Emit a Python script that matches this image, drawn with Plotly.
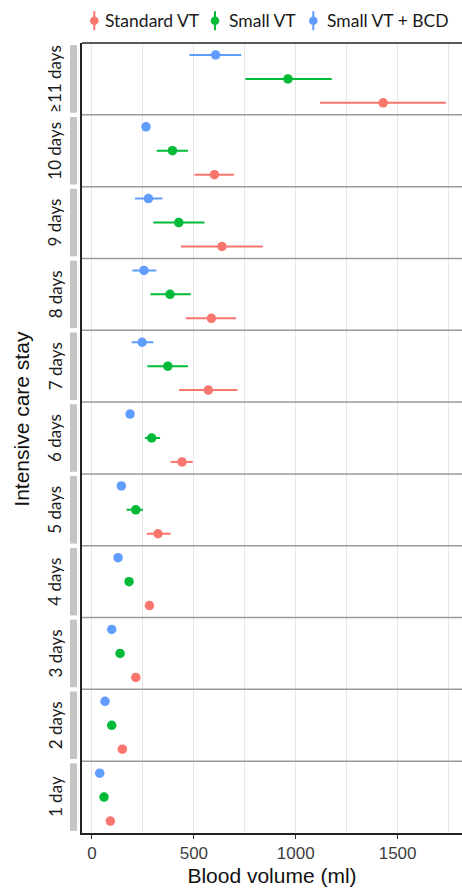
import plotly.graph_objects as go
from plotly.subplots import make_subplots

# Length of intensive care stay (bottom to top of the stacked panels)
stay = ["1 day", "2 days", "3 days", "4 days", "5 days", "6 days",
        "7 days", "8 days", "9 days", "10 days", "≥11 days"]

# Cumulative blood volume drawn (ml): mean with interval bounds
std_mean = [90, 149, 215, 282, 324, 442, 571, 586, 638, 601, 1429]
std_lo = [78, 136, 200, 266, 269, 385, 427, 460, 437, 503, 1119]
std_hi = [102, 162, 230, 298, 386, 494, 714, 707, 838, 696, 1737]

small_mean = [59, 97, 138, 182, 215, 293, 372, 383, 426, 395, 962]
small_lo = [51, 88, 127, 168, 170, 260, 272, 287, 301, 318, 753]
small_hi = [67, 106, 149, 196, 250, 334, 471, 485, 552, 471, 1177]

bcd_mean = [38, 64, 97, 128, 144, 187, 246, 255, 277, 265, 607]
bcd_lo = [32, 57, 89, 119, 133, 176, 195, 198, 211, 250, 478]
bcd_hi = [44, 71, 105, 137, 155, 198, 301, 316, 346, 281, 733]

groups = ["Standard VT", "Small VT", "Small VT + BCD"]
colors = ["#F8766D", "#00BA38", "#619CFF"]
series = [(std_mean, std_lo, std_hi),
          (small_mean, small_lo, small_hi),
          (bcd_mean, bcd_lo, bcd_hi)]

x_ticks = [0, 500, 1000, 1500]

n = len(stay)
fig = make_subplots(rows=n, cols=1, shared_xaxes=True, vertical_spacing=0)

for i in range(n):
    row = n - i  # top row holds the longest stay
    for g, (name, col, (m, lo, hi)) in enumerate(zip(groups, colors, series)):
        fig.add_trace(go.Scatter(
            x=[m[i]], y=[name], mode="markers",
            marker=dict(color=col, size=9.5),
            error_x=dict(type="data", symmetric=False,
                         array=[hi[i] - m[i]], arrayminus=[m[i] - lo[i]],
                         color=col, thickness=2, width=0),
            showlegend=False, hoverinfo="x+y"), row=row, col=1)

fig.update_xaxes(range=[-49, 1816], tickvals=x_ticks, showgrid=True,
                 gridcolor="#e6e6e6", gridwidth=1, zeroline=False,
                 minor=dict(dtick=250, tick0=0, showgrid=True,
                            gridcolor="#e6e6e6", gridwidth=1),
                 ticks="", showline=False)
fig.update_xaxes(row=n, col=1, ticks="outside", ticklen=4, tickwidth=1,
                 tickcolor="#333", showline=True, linecolor="#222",
                 linewidth=1.5,
                 tickfont=dict(family="Liberation Sans", size=17, color="#3d3d3d"),
                 title=dict(text="Blood volume (ml)", standoff=6,
                            font=dict(family="Liberation Sans", size=21,
                                      color="#111")))
fig.update_yaxes(type="category", categoryorder="array",
                 categoryarray=groups, range=[-0.5, 2.5],
                 showticklabels=False, showgrid=False, zeroline=False,
                 showline=True, linecolor="#222", linewidth=1.5, ticks="")

shapes = []
annotations = []
L, W = 82, 380  # plot area left edge and width in pixels
for i in range(n):
    row = n - i
    yd = "y domain" if row == 1 else f"y{row} domain"
    # facet strip on the left
    shapes.append(dict(type="rect", xref="paper", yref=yd,
                       x0=(70 - L) / W, x1=(77 - L) / W, y0=0.03, y1=0.97,
                       fillcolor="#c4c4c4", line=dict(width=0), layer="above"))
    annotations.append(dict(text=stay[i], xref="paper", yref=yd,
                            x=(55 - L) / W, y=0.5, textangle=-90,
                            showarrow=False, xanchor="center", yanchor="middle",
                            font=dict(family="Lato", size=17, color="#1a1a1a")))
    if row < n:
        shapes.append(dict(type="line", xref="paper", yref=yd,
                           x0=0, x1=1, y0=0, y1=0,
                           line=dict(color="#9a9a9a", width=1.5)))

# top border of the panel stack
shapes.append(dict(type="line", xref="paper", yref="paper", x0=0, x1=1,
                   y0=1, y1=1, line=dict(color="#222", width=1.5)))

# legend keys: point with a vertical range line
H = 790
def py(px):
    return 1 + (43.3 - px) / H

key_x = [94.3, 215, 313.3]
text_x = [102.7, 226.7, 325]
for name, col, kx, tx in zip(groups, colors, key_x, text_x):
    shapes.append(dict(type="line", xref="paper", yref="paper",
                       x0=(kx - L) / W, x1=(kx - L) / W, y0=py(11.5), y1=py(30.5),
                       line=dict(color=col, width=2)))
    shapes.append(dict(type="circle", xref="paper", yref="paper",
                       x0=(kx - 4.3 - L) / W, x1=(kx + 4.3 - L) / W,
                       y0=py(21 + 4.3), y1=py(21 - 4.3),
                       fillcolor=col, line=dict(width=0)))
    annotations.append(dict(text=name, xref="paper", yref="paper",
                            x=(tx - L) / W, y=py(21), showarrow=False,
                            xanchor="left", yanchor="middle",
                            font=dict(family="Lato", size=17.5, color="#1a1a1a")))

annotations.append(dict(text="Intensive care stay", xref="paper", yref="paper",
                        x=(22 - L) / W, y=py(419), textangle=-90,
                        showarrow=False, xanchor="center", yanchor="middle",
                        font=dict(family="Liberation Sans", size=21, color="#111")))

fig.update_layout(width=462, height=889,
                  margin=dict(l=82, r=0, t=43, b=56),
                  plot_bgcolor="white", paper_bgcolor="white",
                  shapes=shapes, annotations=annotations, showlegend=False)

fig.write_html("out.html")
